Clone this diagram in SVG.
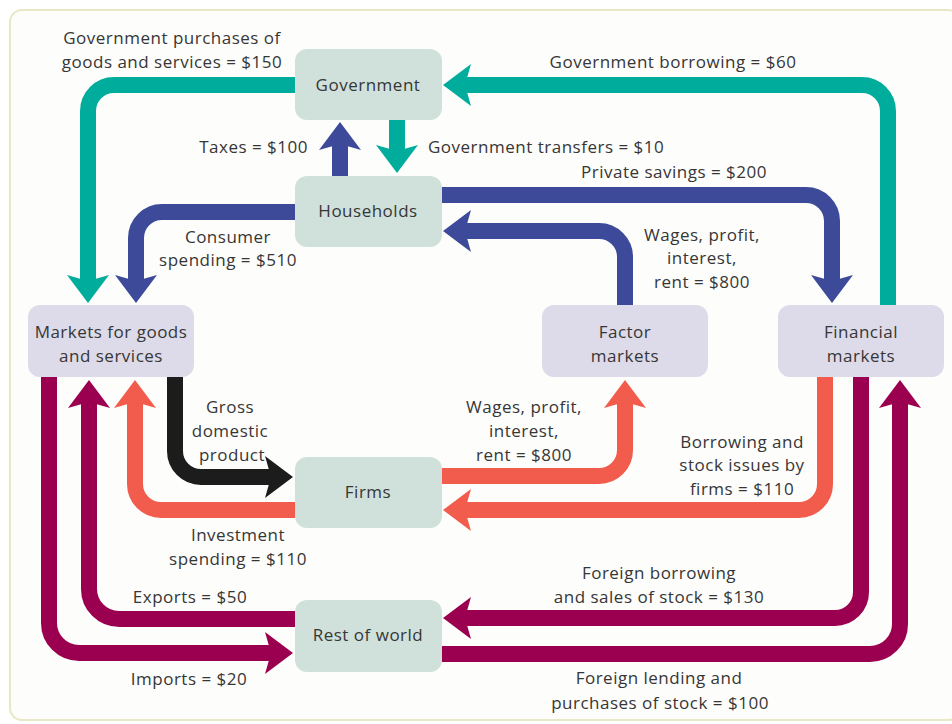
<svg xmlns="http://www.w3.org/2000/svg" width="952" height="724" viewBox="0 0 952 724">
<style>
.flow{fill:none;stroke-width:16;stroke-linecap:butt;stroke-linejoin:round}
.teal{stroke:#00ad9c}.navy{stroke:#3c4a99}.coral{stroke:#f25c4c}.black{stroke:#1c1c1c}.maroon{stroke:#9b0050}
.box-g{fill:#d0e1db}.box-l{fill:#dddbe9}
text{font-family:"Open Sans","Liberation Sans",sans-serif;font-size:17px;letter-spacing:0.5px;fill:#363636}
.c{text-anchor:middle}.r{text-anchor:end}
</style>
<defs>
<marker id="h-teal" markerUnits="userSpaceOnUse" viewBox="0 -22 30 44" markerWidth="30" markerHeight="44" refX="6" refY="0" orient="auto" overflow="visible"><path d="M28,0 L0,-21 L6,0 L0,21 Z" fill="#00ad9c"/></marker>
<marker id="h-navy" markerUnits="userSpaceOnUse" viewBox="0 -22 30 44" markerWidth="30" markerHeight="44" refX="6" refY="0" orient="auto" overflow="visible"><path d="M28,0 L0,-21 L6,0 L0,21 Z" fill="#3c4a99"/></marker>
<marker id="h-coral" markerUnits="userSpaceOnUse" viewBox="0 -22 30 44" markerWidth="30" markerHeight="44" refX="6" refY="0" orient="auto" overflow="visible"><path d="M28,0 L0,-21 L6,0 L0,21 Z" fill="#f25c4c"/></marker>
<marker id="h-black" markerUnits="userSpaceOnUse" viewBox="0 -22 30 44" markerWidth="30" markerHeight="44" refX="6" refY="0" orient="auto" overflow="visible"><path d="M28,0 L0,-21 L6,0 L0,21 Z" fill="#1c1c1c"/></marker>
<marker id="h-maroon" markerUnits="userSpaceOnUse" viewBox="0 -22 30 44" markerWidth="30" markerHeight="44" refX="6" refY="0" orient="auto" overflow="visible"><path d="M28,0 L0,-21 L6,0 L0,21 Z" fill="#9b0050"/></marker>
</defs>
<rect x="0" y="0" width="952" height="724" fill="#ffffff"/>
<rect x="10" y="10" width="950" height="710" rx="12" fill="#fdfdfb" stroke="#e8e8c6" stroke-width="2"/>
<g id="connectors">
<path class="flow teal" d="M295,85 H114 A26,26 0 0 0 88,111 V281" marker-end="url(#h-teal)"/>
<path class="flow teal" d="M888,305 V111 A26,26 0 0 0 862,85 H465" marker-end="url(#h-teal)"/>
<path class="flow teal" d="M397,120 V151" marker-end="url(#h-teal)"/>
<path class="flow navy" d="M340,176 V144" marker-end="url(#h-navy)"/>
<path class="flow navy" d="M295,212 H162 A26,26 0 0 0 136,238 V281" marker-end="url(#h-navy)"/>
<path class="flow navy" d="M442,195 H806 A26,26 0 0 1 832,221 V281" marker-end="url(#h-navy)"/>
<path class="flow navy" d="M625,305 V257 A26,26 0 0 0 599,231 H465" marker-end="url(#h-navy)"/>
<path class="flow coral" d="M442,476 H599 A26,26 0 0 0 625,450 V402" marker-end="url(#h-coral)"/>
<path class="flow coral" d="M825,377 V484 A26,26 0 0 1 799,510 H465" marker-end="url(#h-coral)"/>
<path class="flow coral" d="M295,510 H161 A26,26 0 0 1 135,484 V402" marker-end="url(#h-coral)"/>
<path class="flow black" d="M175,377 V451 A26,26 0 0 0 201,477 H271" marker-end="url(#h-black)"/>
<path class="flow maroon" d="M49,377 V623 A30,30 0 0 0 79,653 H271" marker-end="url(#h-maroon)"/>
<path class="flow maroon" d="M295,619 H119 A30,30 0 0 1 89,589 V402" marker-end="url(#h-maroon)"/>
<path class="flow maroon" d="M861,377 V592 A26,26 0 0 1 835,618 H465" marker-end="url(#h-maroon)"/>
<path class="flow maroon" d="M442,654 H870 A30,30 0 0 0 900,624 V402" marker-end="url(#h-maroon)"/>
</g>
<g id="government"><rect class="box-g" x="295" y="49" width="147" height="71" rx="12"/><text class="c" x="368" y="91">Government</text></g>
<g id="households"><rect class="box-g" x="295" y="176" width="147" height="71" rx="12"/><text class="c" x="368" y="217">Households</text></g>
<g id="markets-goods"><rect class="box-l" x="28" y="305" width="166" height="72" rx="12"/><text class="c" x="111" y="338">Markets for goods</text><text class="c" x="111" y="362">and services</text></g>
<g id="factor-markets"><rect class="box-l" x="542" y="305" width="166" height="72" rx="12"/><text class="c" x="625" y="338">Factor</text><text class="c" x="625" y="362">markets</text></g>
<g id="financial-markets"><rect class="box-l" x="778" y="305" width="166" height="72" rx="12"/><text class="c" x="861" y="338">Financial</text><text class="c" x="861" y="362">markets</text></g>
<g id="firms"><rect class="box-g" x="295" y="457" width="147" height="71" rx="12"/><text class="c" x="368" y="498">Firms</text></g>
<g id="rest-of-world"><rect class="box-g" x="295" y="600" width="147" height="72" rx="12"/><text class="c" x="368" y="641">Rest of world</text></g>
<g id="labels">
<text class="c" x="172" y="44">Government purchases of</text>
<text class="c" x="172" y="68">goods and services = $150</text>
<text class="c" x="673" y="68">Government borrowing = $60</text>
<text class="r" x="308" y="153">Taxes = $100</text>
<text x="428" y="153">Government transfers = $10</text>
<text class="c" x="674" y="178">Private savings = $200</text>
<text class="c" x="228" y="243">Consumer</text>
<text class="c" x="228" y="266">spending = $510</text>
<text class="c" x="702" y="241">Wages, profit,</text>
<text class="c" x="702" y="264">interest,</text>
<text class="c" x="702" y="288">rent = $800</text>
<text class="c" x="230" y="413">Gross</text>
<text class="c" x="230" y="437">domestic</text>
<text class="c" x="232" y="461">product</text>
<text class="c" x="524" y="413">Wages, profit,</text>
<text class="c" x="524" y="437">interest,</text>
<text class="c" x="524" y="461">rent = $800</text>
<text class="c" x="742" y="448">Borrowing and</text>
<text class="c" x="742" y="471">stock issues by</text>
<text class="c" x="742" y="495">firms = $110</text>
<text class="c" x="238" y="541">Investment</text>
<text class="c" x="238" y="565">spending = $110</text>
<text class="c" x="190" y="603">Exports = $50</text>
<text class="c" x="189" y="685">Imports = $20</text>
<text class="c" x="659" y="579">Foreign borrowing</text>
<text class="c" x="659" y="603">and sales of stock = $130</text>
<text class="c" x="659" y="684">Foreign lending and</text>
<text class="c" x="660" y="709">purchases of stock = $100</text>
</g>
</svg>
